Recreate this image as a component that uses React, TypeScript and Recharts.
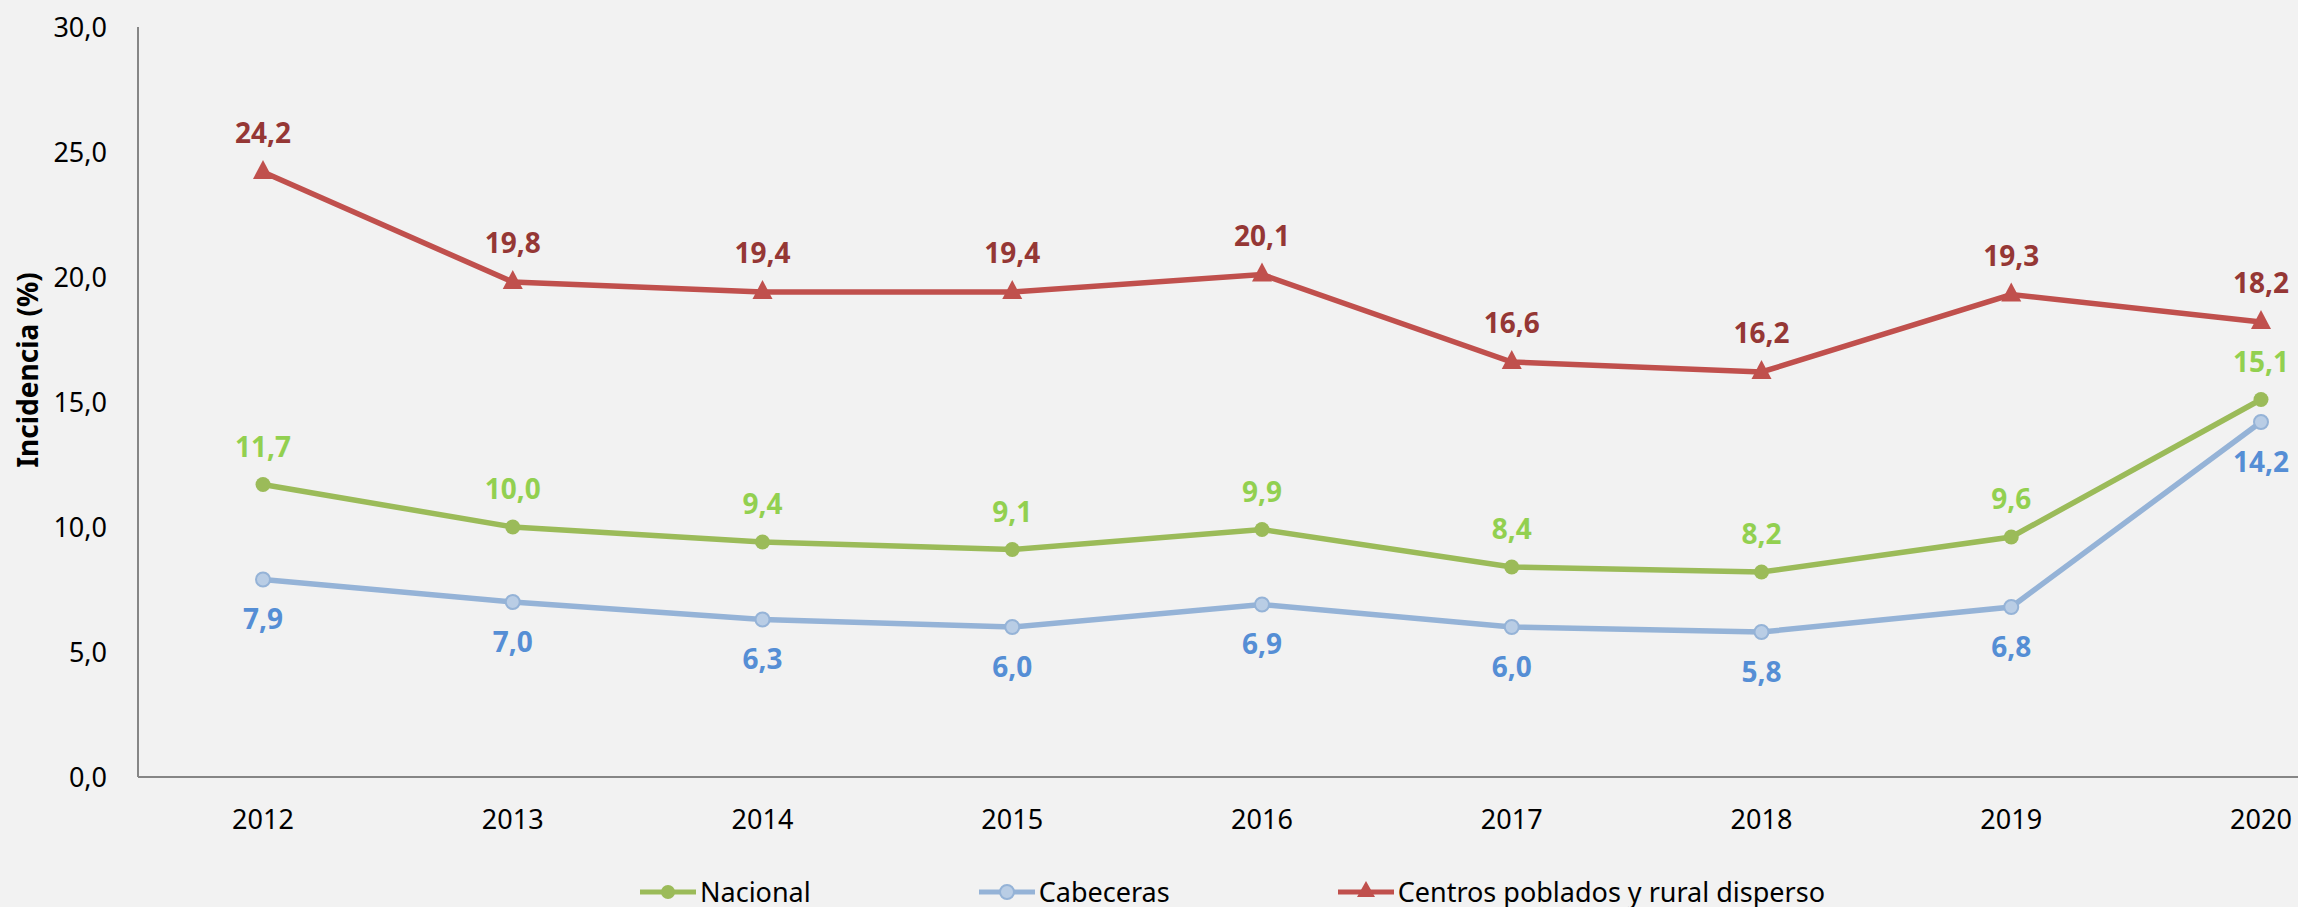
import { LineChart, Line, XAxis, YAxis, LabelList } from 'recharts';

const years = ['2012', '2013', '2014', '2015', '2016', '2017', '2018', '2019', '2020'];
const nacional = [11.7, 10.0, 9.4, 9.1, 9.9, 8.4, 8.2, 9.6, 15.1];
const cabeceras = [7.9, 7.0, 6.3, 6.0, 6.9, 6.0, 5.8, 6.8, 14.2];
const centros = [24.2, 19.8, 19.4, 19.4, 20.1, 16.6, 16.2, 19.3, 18.2];
const yTicks = [0, 5, 10, 15, 20, 25, 30];

const data = years.map((year, i) => ({
    year,
    nacional: nacional[i],
    cabeceras: cabeceras[i],
    centros: centros[i],
}));

const FONT = '"Noto Sans", "Open Sans", sans-serif';
const fmt = (v: number) => v.toFixed(1).replace('.', ',');

const GREEN = '#9BBB59';
const BLUE = '#95B3D7';
const BLUE_FILL = '#B9CDE5';
const RED = '#C0504D';

const Triangle = (props: any) => {
    const { cx, cy } = props;
    if (cx == null || cy == null) return null;
    return <polygon points={`${cx},${cy - 12} ${cx + 10},${cy + 7} ${cx - 10},${cy + 7}`} fill={RED} />;
};

const labelStyle = (color: string) => ({
    fill: color,
    fontSize: 28,
    fontWeight: 700,
    fontFamily: FONT,
});

const LegendItem = ({ label, color, marker }: { label: string; color: string; marker: 'circle' | 'hollow' | 'triangle' }) => (
    <div style={{ display: 'flex', alignItems: 'center', marginRight: 168 }}>
        <svg width={56} height={24}>
            <line x1={0} y1={12} x2={56} y2={12} stroke={color} strokeWidth={5} />
            {marker === 'circle' && <circle cx={28} cy={12} r={7} fill={color} />}
            {marker === 'hollow' && <circle cx={28} cy={12} r={7} fill={BLUE_FILL} stroke={color} strokeWidth={2} />}
            {marker === 'triangle' && <polygon points="28,1 37,17 19,17" fill={color} />}
        </svg>
        <span style={{ marginLeft: 4 }}>{label}</span>
    </div>
);

export default function App() {
    return (
        <div style={{ position: 'absolute', left: 0, top: 0, width: 2298, height: 907, background: '#F2F2F2', fontFamily: FONT }}>
            <LineChart width={2298} height={907} data={data} margin={{ top: 27, right: 0, left: 0, bottom: 100 }}>
                <XAxis
                    dataKey="year"
                    height={30}
                    padding={{ left: 125, right: 37 }}
                    axisLine={{ stroke: '#868686', strokeWidth: 2 }}
                    tickLine={false}
                    tickSize={0}
                    tickMargin={33}
                    tick={{ fill: '#000', fontSize: 27, fontFamily: FONT }}
                />
                <YAxis
                    width={138}
                    domain={[0, 30]}
                    ticks={yTicks}
                    tickFormatter={fmt}
                    axisLine={{ stroke: '#868686', strokeWidth: 2 }}
                    tickLine={false}
                    tickSize={0}
                    tickMargin={31}
                    tick={{ fill: '#000', fontSize: 27, fontFamily: FONT }}
                    label={{
                        content: () => (
                            <text
                                x={27}
                                y={370}
                                transform="rotate(-90, 27, 370)"
                                textAnchor="middle"
                                dominantBaseline="central"
                                style={{ fontSize: 28, fontWeight: 700, fontFamily: FONT, fill: '#000' }}
                            >
                                Incidencia (%)
                            </text>
                        ),
                    }}
                />
                <Line
                    dataKey="cabeceras"
                    stroke={BLUE}
                    strokeWidth={5.5}
                    dot={{ r: 7, fill: BLUE_FILL, stroke: BLUE, strokeWidth: 2 }}
                    isAnimationActive={false}
                >
                    <LabelList dataKey="cabeceras" position="bottom" offset={30} formatter={(v: any) => fmt(v)} style={labelStyle('#558ED5')} />
                </Line>
                <Line
                    dataKey="nacional"
                    stroke={GREEN}
                    strokeWidth={5.5}
                    dot={{ r: 7.5, fill: GREEN, stroke: 'none' }}
                    isAnimationActive={false}
                >
                    <LabelList dataKey="nacional" position="top" offset={28} formatter={(v: any) => fmt(v)} style={labelStyle('#92D050')} />
                </Line>
                <Line
                    dataKey="centros"
                    stroke={RED}
                    strokeWidth={5.5}
                    dot={<Triangle />}
                    isAnimationActive={false}
                >
                    <LabelList dataKey="centros" position="top" offset={29} formatter={(v: any) => fmt(v)} style={labelStyle('#953735')} />
                </Line>
            </LineChart>
            <div
                style={{
                    position: 'absolute',
                    left: 640,
                    top: 873,
                    display: 'flex',
                    fontSize: 27,
                    color: '#000',
                    lineHeight: '38px',
                }}
            >
                <LegendItem label="Nacional" color={GREEN} marker="circle" />
                <LegendItem label="Cabeceras" color={BLUE} marker="hollow" />
                <LegendItem label="Centros poblados y rural disperso" color={RED} marker="triangle" />
            </div>
        </div>
    );
}
